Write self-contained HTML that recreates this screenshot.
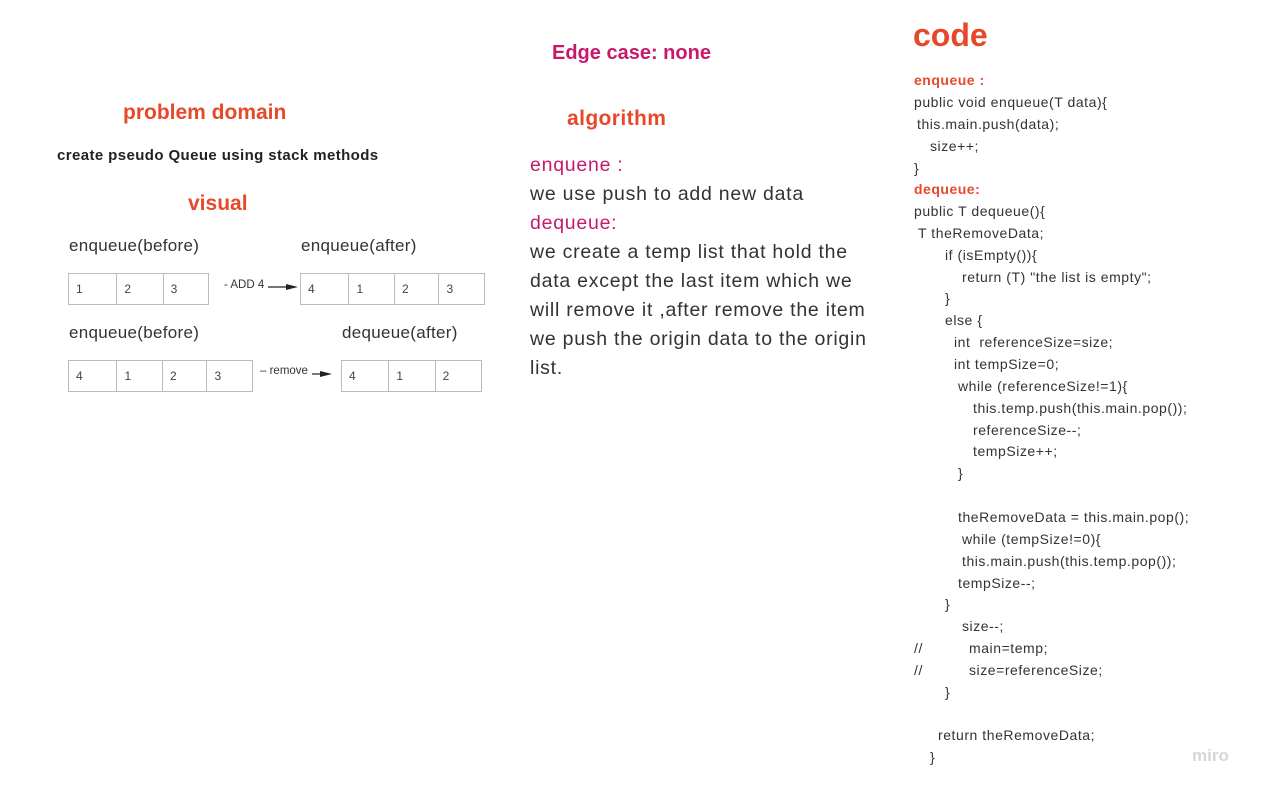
<!DOCTYPE html>
<html><head><meta charset="utf-8"><style>
body{margin:0;width:1261px;height:792px;background:#fff;position:relative;overflow:hidden;font-family:"Liberation Sans",sans-serif;color:#333}
.a{position:absolute;white-space:nowrap}
.t{font-weight:bold;color:#e8482a}
.box{position:absolute;border:1px solid #bbb;display:flex;height:32px;box-sizing:border-box}
.box div{border-right:1px solid #bbb;font-size:12px;padding:8px 0 0 7px;box-sizing:border-box;color:#444}
.box div:last-child{border-right:none}
.lbl{font-size:17px;color:#333;letter-spacing:0.3px}
.c{position:absolute;white-space:nowrap;font-size:14px;letter-spacing:0.55px;color:#333}
.c.t{color:#e8482a;letter-spacing:0.5px}
.alg{position:absolute;left:530px;font-size:19.5px;white-space:nowrap;color:#333;letter-spacing:0.75px}
.m{color:#c8186c}
</style></head><body>
<div class="a" style="left:552px;top:42px;font-size:20px;font-weight:bold;color:#c8186c">Edge case: none</div>
<div class="a t" style="left:123px;top:101px;font-size:21px">problem domain</div>
<div class="a" style="left:57px;top:147px;font-size:15px;letter-spacing:0.4px;font-weight:bold;color:#222">create pseudo Queue using stack methods</div>
<div class="a t" style="left:188px;top:192px;font-size:21px">visual</div>
<div class="a t" style="left:567px;top:107px;font-size:21px;letter-spacing:0.4px">algorithm</div>

<div class="a lbl" style="left:69px;top:236px">enqueue(before)</div>
<div class="a lbl" style="left:301px;top:236px">enqueue(after)</div>
<div class="a lbl" style="left:69px;top:323px">enqueue(before)</div>
<div class="a lbl" style="left:342px;top:323px">dequeue(after)</div>

<div class="box" style="left:68px;top:273px;width:141px"><div style="width:49px">1</div><div style="width:47px">2</div><div style="width:45px">3</div></div>
<div class="box" style="left:300px;top:273px;width:185px"><div style="width:49px">4</div><div style="width:46px">1</div><div style="width:45px">2</div><div style="width:45px">3</div></div>
<div class="box" style="left:68px;top:360px;width:185px"><div style="width:49px">4</div><div style="width:46px">1</div><div style="width:45px">2</div><div style="width:45px">3</div></div>
<div class="box" style="left:341px;top:360px;width:141px"><div style="width:48px">4</div><div style="width:47px">1</div><div style="width:46px">2</div></div>

<div class="a" style="left:224px;top:279px;font-size:11.5px;color:#333">- ADD 4</div>
<svg class="a" style="left:268px;top:282px" width="32" height="10"><line x1="0" y1="5" x2="20" y2="5" stroke="#222" stroke-width="1.2"/><polygon points="18,2 30,5 18,8" fill="#222"/></svg>
<div class="a" style="left:260px;top:365px;font-size:11.5px;color:#333">– remove</div>
<svg class="a" style="left:312px;top:369px" width="22" height="10"><line x1="0" y1="5" x2="10" y2="5" stroke="#222" stroke-width="1.2"/><polygon points="8,2 20,5 8,8" fill="#222"/></svg>

<div class="alg m" style="top:154px">enquene :</div>
<div class="alg" style="top:183px">we use push to add new data</div>
<div class="alg m" style="top:212px">dequeue:</div>
<div class="alg" style="top:241px">we create a temp list that hold the</div>
<div class="alg" style="top:270px">data except the last item which we</div>
<div class="alg" style="top:299px">will remove it ,after remove the item</div>
<div class="alg" style="top:328px">we push the origin data to the origin</div>
<div class="alg" style="top:357px">list.</div>

<div class="a t" style="left:913px;top:17px;font-size:32px">code</div>
<div class="c t" style="left:914px;top:72px">enqueue :</div>
<div class="c" style="left:914px;top:94px">public void enqueue(T data){</div>
<div class="c" style="left:917px;top:116px">this.main.push(data);</div>
<div class="c" style="left:930px;top:138px">size++;</div>
<div class="c" style="left:914px;top:160px">}</div>
<div class="c t" style="left:914px;top:181px">dequeue:</div>
<div class="c" style="left:914px;top:203px">public T dequeue(){</div>
<div class="c" style="left:918px;top:225px">T theRemoveData;</div>
<div class="c" style="left:945px;top:247px">if (isEmpty()){</div>
<div class="c" style="left:962px;top:269px">return (T) "the list is empty";</div>
<div class="c" style="left:945px;top:290px">}</div>
<div class="c" style="left:945px;top:312px">else {</div>
<div class="c" style="left:954px;top:334px">int &nbsp;referenceSize=size;</div>
<div class="c" style="left:954px;top:356px">int tempSize=0;</div>
<div class="c" style="left:958px;top:378px">while (referenceSize!=1){</div>
<div class="c" style="left:973px;top:400px">this.temp.push(this.main.pop());</div>
<div class="c" style="left:973px;top:422px">referenceSize--;</div>
<div class="c" style="left:973px;top:443px">tempSize++;</div>
<div class="c" style="left:958px;top:465px">}</div>
<div class="c" style="left:958px;top:509px">theRemoveData = this.main.pop();</div>
<div class="c" style="left:962px;top:531px">while (tempSize!=0){</div>
<div class="c" style="left:962px;top:553px">this.main.push(this.temp.pop());</div>
<div class="c" style="left:958px;top:575px">tempSize--;</div>
<div class="c" style="left:945px;top:596px">}</div>
<div class="c" style="left:962px;top:618px">size--;</div>
<div class="c" style="left:914px;top:640px">//</div>
<div class="c" style="left:969px;top:640px">main=temp;</div>
<div class="c" style="left:914px;top:662px">//</div>
<div class="c" style="left:969px;top:662px">size=referenceSize;</div>
<div class="c" style="left:945px;top:684px">}</div>
<div class="c" style="left:938px;top:727px">return theRemoveData;</div>
<div class="c" style="left:930px;top:749px">}</div>

<div class="a" style="left:1192px;top:746px;font-size:17px;font-weight:bold;color:#d6d6d6">miro</div>
</body></html>
